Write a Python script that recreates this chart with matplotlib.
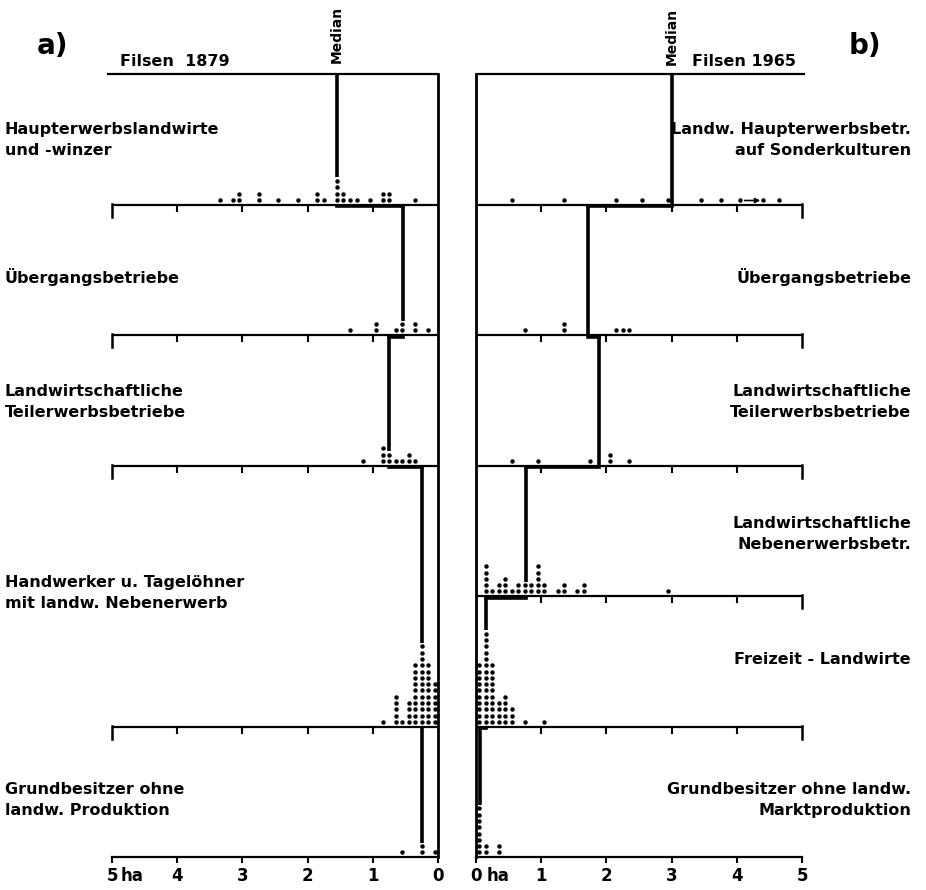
import matplotlib
matplotlib.use("Agg")
import matplotlib.pyplot as plt
import numpy as np

# ---------------- data ----------------
left_title = "Filsen  1879"
right_title = "Filsen 1965"

left_labels = ["Haupterwerbslandwirte\nund -winzer",
               "Übergangsbetriebe",
               "Landwirtschaftliche\nTeilerwerbsbetriebe",
               "Handwerker u. Tagelöhner\nmit landw. Nebenerwerb",
               "Grundbesitzer ohne\nlandw. Produktion"]
left_medians = [1.55, 0.54, 0.75, 0.25, 0.24]
left_vals = [
    [3.35, 3.15, 3.05, 2.75, 2.45, 2.15, 1.85, 1.75, 1.55, 1.45, 1.35, 1.25, 1.05, 0.85, 0.75, 0.35],
    [1.35, 0.95, 0.65, 0.55, 0.35, 0.15],
    [1.15, 0.85, 0.75, 0.65, 0.55, 0.45, 0.35],
    [0.85, 0.65, 0.55, 0.45, 0.35, 0.25, 0.15, 0.05],
    [0.55, 0.25, 0.05],
]
left_counts = [
    [1, 1, 2, 2, 1, 1, 2, 1, 4, 2, 1, 1, 1, 2, 2, 1],
    [1, 2, 1, 2, 2, 1],
    [1, 3, 2, 1, 1, 2, 1],
    [1, 5, 1, 4, 10, 13, 10, 7],
    [1, 2, 1],
]

right_labels = ["Landw. Haupterwerbsbetr.\nauf Sonderkulturen",
                "Übergangsbetriebe",
                "Landwirtschaftliche\nTeilerwerbsbetriebe",
                "Landwirtschaftliche\nNebenerwerbsbetr.",
                "Freizeit - Landwirte",
                "Grundbesitzer ohne landw.\nMarktproduktion"]
right_medians = [3.0, 1.72, 1.89, 0.77, 0.15, 0.06]
right_vals = [
    [0.55, 1.35, 2.15, 2.55, 2.95, 3.45, 3.75, 4.05, 4.4, 4.65],
    [0.75, 1.35, 2.15, 2.25, 2.35],
    [0.55, 0.95, 1.75, 2.05, 2.35],
    [0.15, 0.25, 0.35, 0.45, 0.55, 0.65, 0.75, 0.85, 0.95, 1.05, 1.25, 1.35, 1.55, 1.65, 2.95],
    [0.05, 0.15, 0.25, 0.35, 0.45, 0.55, 0.75, 1.05],
    [0.05, 0.15, 0.35],
]
right_counts = [
    [1, 1, 1, 1, 1, 1, 1, 1, 1, 1],
    [1, 2, 1, 1, 1],
    [1, 1, 1, 2, 1],
    [5, 1, 2, 3, 1, 2, 2, 2, 5, 2, 1, 2, 1, 2, 1],
    [10, 15, 10, 4, 5, 3, 1, 1],
    [8, 2, 2],
]
right_arrow = [4.12, 4.36]   # off-scale marker in first group (ha)

tick_values = [0, 1, 2, 3, 4, 5]
left_ticklabels = ["0", "1", "2", "3", "4", "5"]
right_ticklabels = ["0", "1", "2", "3", "4", "5"]

# ---------------- layout ----------------
W, Hpx = 926, 890
FONT = "DejaVu Sans"
plt.rcParams["font.family"] = [FONT]
plt.rcParams["font.weight"] = "bold"

LABEL_FS = 11.5
TICK_FS = 12

SLOT = 130.5            # height of one category band (y-units = pixels)
DOT = 6.3               # vertical dot spacing
NSLOT = 6
H = NSLOT * SLOT
PXHA = 65.2             # pixels per hectare

fig = plt.figure(figsize=(W / 100, Hpx / 100), dpi=100)

top_px = 74
bottom_px = 857


def fx(px):
    return px / W


def fy(py):
    return 1 - py / Hpx


left_xmax = 5.07
axL = fig.add_axes([fx(438 - left_xmax * PXHA), fy(bottom_px), fx(left_xmax * PXHA),
                    (bottom_px - top_px) / Hpx])
axL.set_xlim(left_xmax, 0)
right_xmax = 5.05
axR = fig.add_axes([fx(476), fy(bottom_px), fx(right_xmax * PXHA),
                    (bottom_px - top_px) / Hpx])
axR.set_xlim(0, right_xmax)

LW_BASE = 1.6
LW_MED = 2.6
LW_FRAME = 2.0
TICK_LEN = 4
TICK_PAD = 3.5


def draw_panel(ax, vals, counts, medians, slots, xtop_end, ticklabels):
    ax.set_ylim(0, H)
    for s in ["top", "left", "right"]:
        ax.spines[s].set_visible(False)
    ax.spines["bottom"].set_bounds(0, 5)
    ax.spines["bottom"].set_linewidth(LW_BASE)
    ax.set_yticks([])
    ax.set_xticks(tick_values)
    ax.set_xticklabels(ticklabels, fontsize=TICK_FS, fontweight="bold")
    ax.tick_params(axis="x", length=TICK_LEN, width=1.5, pad=TICK_PAD,
                   direction="out")
    ax.patch.set_alpha(0)

    cum = np.cumsum(slots)
    tops = H - SLOT * np.concatenate([[0], cum[:-1]])
    bases = H - SLOT * cum

    # top line and frame line at 0 ha
    ax.plot([xtop_end, 0], [H, H], color="k", lw=LW_BASE, clip_on=False,
            solid_capstyle="butt")
    ax.plot([0, 0], [0, H], color="k", lw=LW_FRAME, clip_on=False,
            solid_capstyle="projecting")

    # intermediate baselines with ticks
    for b in bases[:-1]:
        ax.plot([0, 5], [b, b], color="k", lw=LW_BASE, clip_on=False,
                solid_capstyle="butt")
        for t in [1, 2, 3, 4]:
            ax.plot([t, t], [b, b - 6], color="k", lw=1.5, clip_on=False)
        ax.plot([5, 5], [b + 1, b - 12], color="k", lw=1.8, clip_on=False)

    # dots
    for v, c, b in zip(vals, counts, bases):
        for x, n in zip(v, c):
            ys = b + DOT * (0.72 + np.arange(n))
            ax.plot(np.full(n, x), ys, "o", ms=3.2, color="k", mec="none",
                    clip_on=False, zorder=3)

    # median step line
    for k, m in enumerate(medians):
        b = bases[k]
        stop = b
        for x, n in zip(vals[k], counts[k]):
            if abs(x - m) < 0.035:
                stop = b + DOT * (n + 0.3)
        ax.plot([m, m], [tops[k], stop], color="k", lw=LW_MED,
                solid_capstyle="butt", clip_on=False, zorder=4)
        if k + 1 < len(medians):
            ax.plot([m, medians[k + 1]], [b - 1.5, b - 1.5], color="k",
                    lw=LW_MED, solid_capstyle="projecting", clip_on=False,
                    zorder=4)
    return tops, bases


topsL, basesL = draw_panel(axL, left_vals, left_counts, left_medians,
                           [1, 1, 1, 2, 1], left_xmax, left_ticklabels)
topsR, basesR = draw_panel(axR, right_vals, right_counts, right_medians,
                           [1, 1, 1, 1, 1, 1], right_xmax, right_ticklabels)

# "ha" after the end labels
off = -(TICK_LEN + TICK_PAD)
axL.annotate("ha", xy=(5, 0), xycoords="data", xytext=(6.5, off),
             textcoords="offset points", ha="left", va="top",
             fontsize=TICK_FS, fontweight="bold")
axR.annotate("ha", xy=(0, 0), xycoords="data", xytext=(7.5, off),
             textcoords="offset points", ha="left", va="top",
             fontsize=TICK_FS, fontweight="bold")

# off-scale arrow in right first group
axR.annotate("", xy=(right_arrow[1], basesR[0] + 4), xytext=(right_arrow[0], basesR[0] + 4),
             arrowprops=dict(arrowstyle="-|>", color="k", lw=1.2,
                             mutation_scale=7, shrinkA=0, shrinkB=0))

# Median labels
axL.text(left_medians[0], H + 11, "Median", rotation=90, ha="center",
         va="bottom", fontsize=10, fontweight="bold")
axR.text(right_medians[0], H + 9, "Median", rotation=90, ha="center",
         va="bottom", fontsize=10, fontweight="bold")

# titles
fig.text(fx(120), fy(62), left_title, ha="left", va="center", fontsize=LABEL_FS,
         fontweight="bold")
fig.text(fx(796), fy(62), right_title, ha="right", va="center", fontsize=LABEL_FS,
         fontweight="bold")
fig.text(fx(37), fy(46), "a)", ha="left", va="center", fontsize=20,
         fontweight="bold")
fig.text(fx(881), fy(46), "b)", ha="right", va="center", fontsize=20,
         fontweight="bold")

# category labels
left_label_y = [140, 277, 402, 593, 800]
right_label_y = [140, 277, 402, 534, 660, 800]
for lab, y in zip(left_labels, left_label_y):
    fig.text(fx(5), fy(y), lab, ha="left", va="center", fontsize=LABEL_FS,
             fontweight="bold", linespacing=1.5)
for lab, y in zip(right_labels, right_label_y):
    fig.text(fx(911), fy(y), lab, ha="right", va="center", ma="right",
             fontsize=LABEL_FS, fontweight="bold", linespacing=1.5)

fig.savefig("out.png", dpi=100)
